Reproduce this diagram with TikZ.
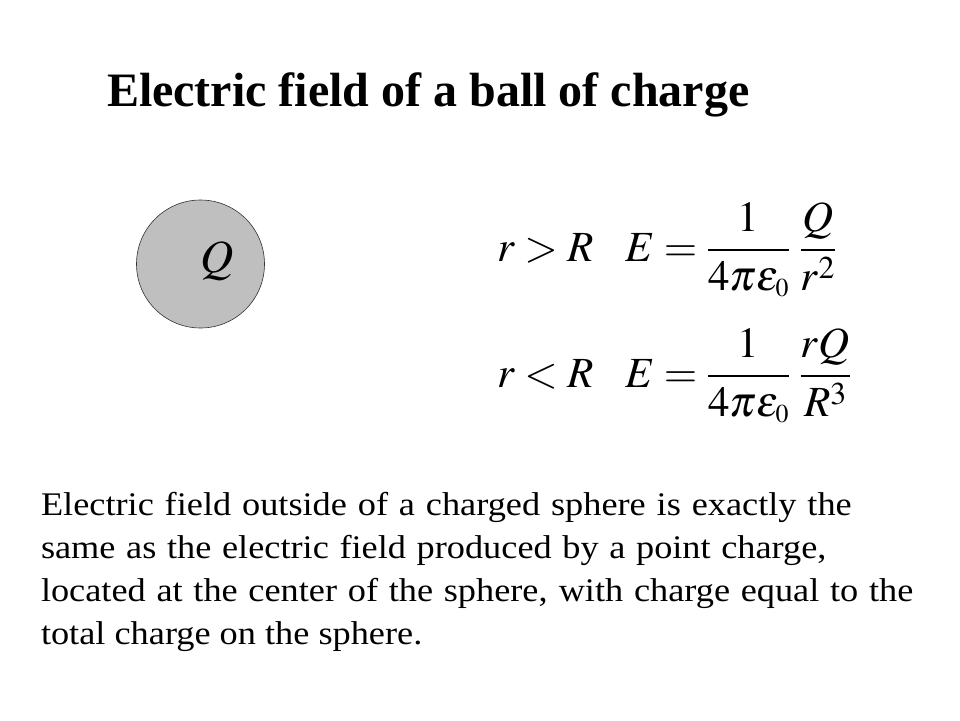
\documentclass[tikz,border=0pt]{standalone}
\usepackage{amsmath}
\usepackage{mathptmx}
\usepackage{fontspec}
\setmainfont{Liberation Serif}
\usepackage{graphicx}
\usetikzlibrary{positioning}

\newcommand\textline[2]{\scalebox{1.1}[1]{\makebox[#1][s]{#2}}}

\begin{document}
\begin{tikzpicture}[x=1pt,y=-1pt,every node/.style={inner sep=0pt,outer sep=0pt},
  eqn/.style={anchor=base west,font=\fontsize{43}{43}\selectfont},
  para/.style={anchor=base west,font=\fontsize{33}{43}\selectfont}]
  \useasboundingbox[fill=white] (0,0) rectangle (960,720);
  \node[anchor=base west,font=\fontsize{48}{48}\selectfont\bfseries] (title) at (107,106) {Electric field of a ball of charge};
  \node[circle,draw=black!80,fill=black!25,line width=0.6pt,minimum size=128pt] (ball) at (200.5,264) {};
  \node[anchor=base,font=\fontsize{46}{46}\selectfont] (charge) at (217,272) {$Q$};
  \node[eqn] (cond1) at (497,261) {$r > R$};
  \node[eqn] (field1) at (625,261) {$E = \dfrac{1}{4\pi\varepsilon_{\scriptscriptstyle 0}}\;\dfrac{Q}{r^2}$};
  \node[eqn] (cond2) at (497,387) {$r < R$};
  \node[eqn] (field2) at (625,387) {$E = \dfrac{1}{4\pi\varepsilon_{\scriptscriptstyle 0}}\;\dfrac{rQ}{R^3}$};
  \node[para] (line1) at (41,515) {\textline{737pt}{Electric field outside of a charged sphere is exactly the}};
  \node[para] (line2) at (41,558) {\textline{714pt}{same as the electric field produced by a point charge,}};
  \node[para] (line3) at (41,601) {\textline{793pt}{located at the center of the sphere, with charge equal to the}};
  \node[para] (line4) at (41,644) {\scalebox{1.1}[1]{total charge on the sphere.}};
\end{tikzpicture}
\end{document}
